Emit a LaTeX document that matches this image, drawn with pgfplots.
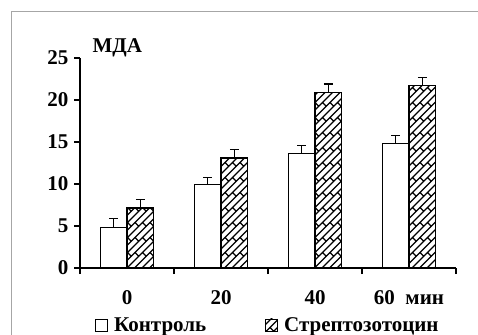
\documentclass[border=0pt]{standalone}
\usepackage{pgfplots}
\pgfplotsset{compat=1.18}
\usepackage{fontspec}
\setmainfont{Liberation Serif}
\usetikzlibrary{patterns}
\pgfdeclarepatternformonly{brick}{\pgfqpoint{-1bp}{-1bp}}{\pgfqpoint{16bp}{16bp}}{\pgfqpoint{15bp}{15bp}}{%
  \pgfsetlinewidth{1.2bp}%
  \pgfpathmoveto{\pgfqpoint{0bp}{0bp}}\pgfpathlineto{\pgfqpoint{15bp}{15bp}}%
  \pgfpathmoveto{\pgfqpoint{0bp}{7.5bp}}\pgfpathlineto{\pgfqpoint{7.5bp}{15bp}}%
  \pgfpathmoveto{\pgfqpoint{7.5bp}{0bp}}\pgfpathlineto{\pgfqpoint{15bp}{7.5bp}}%
  \pgfpathmoveto{\pgfqpoint{3.75bp}{3.75bp}}\pgfpathlineto{\pgfqpoint{0bp}{7.5bp}}%
  \pgfpathmoveto{\pgfqpoint{7.5bp}{7.5bp}}\pgfpathlineto{\pgfqpoint{11.25bp}{3.75bp}}%
  \pgfusepath{stroke}}
\begin{document}
\begin{tikzpicture}
\draw[gray!70, line width=1bp] (11bp,-5bp) -- (11bp,323.5bp) -- (485bp,323.5bp);
\begin{axis}[
  at={(80bp,67bp)}, anchor=south west,
  scale only axis, width=376bp, height=210bp,
  xmin=-0.5, xmax=3.5, ymin=0, ymax=25,
  axis lines=left, axis line style={-, line width=1.2bp},
  font=\fontsize{21bp}{25bp}\selectfont\bfseries,
  /pgf/number format/assume math mode=true,
  ytick={0,5,10,15,20,25},
  tick align=outside, major tick length=6bp,
  tick style={black, line width=1.2bp},
  xtick={0,1,2,3}, xticklabels={0,20,40,{60\ \ мин}},
  x tick style={draw=none},
  extra x ticks={-0.5,0.5,1.5,2.5,3.5}, extra x tick labels={},
  extra x tick style={x tick style={draw=black, line width=1.2bp}},
  xticklabel style={yshift=-13bp},
  yticklabel style={xshift=-2bp},
  ybar, bar width=26.5bp,
  error bars/y dir=plus, error bars/y explicit,
  error bars/error bar style={line width=1.2bp, black},
  error bars/error mark options={rotate=90, mark size=4.5bp, line width=1.2bp, black},
  legend columns=2,
  legend style={at={(0.5,-0.271)}, anchor=center, draw=none, fill=none,
    font=\fontsize{21bp}{25bp}\selectfont\bfseries,
    /tikz/every odd column/.append style={column sep=4bp},
    /tikz/every even column/.append style={column sep=57bp}},
  legend image code/.code={\draw[#1, line width=0.8bp] (0bp,-6bp) rectangle (12bp,6bp);},
]
\addplot[draw=black, fill=white, line width=1.2bp, bar shift=-13.25bp]
  coordinates {(0,4.8) +- (0,1.1) (1,9.9) +- (0,0.9) (2,13.6) +- (0,1.0) (3,14.8) +- (0,0.95)};
\addplot[draw=black, fill=white, postaction={pattern=brick}, line width=1.2bp, bar shift=13.25bp]
  coordinates {(0,7.15) +- (0,1.0) (1,13.1) +- (0,1.0) (2,20.9) +- (0,1.0) (3,21.7) +- (0,1.0)};
\legend{Контроль, Стрептозотоцин}
\end{axis}
\node[anchor=west, font=\fontsize{21bp}{25bp}\selectfont\bfseries] at (89bp,287bp) {МДА};
\pgfresetboundingbox
\path[use as bounding box] (0bp,0bp) rectangle (478bp,335bp);
\end{tikzpicture}
\end{document}
